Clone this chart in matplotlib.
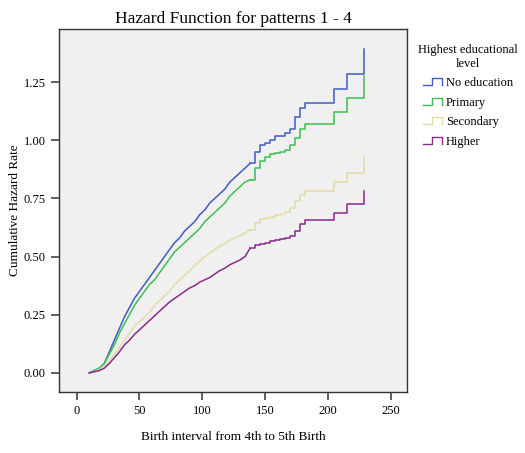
import numpy as np
from matplotlib import pyplot as plt
from matplotlib.legend_handler import HandlerLine2D
from matplotlib.lines import Line2D

# birth interval (months) and cumulative hazard per education level
months = [10, 14, 18, 22, 26, 30, 34, 38, 42, 46, 50, 54, 58, 62, 66, 70, 74, 78,
          82, 86, 90, 94, 98, 102, 106, 110, 114, 118, 122, 126, 130, 134, 138,
          142, 146, 150, 154, 158, 162, 166, 170, 174, 178, 182, 205, 215, 229]
no_education = [0, 0.01, 0.02, 0.04, 0.09, 0.14, 0.19, 0.24, 0.28, 0.32, 0.35, 0.38,
                0.41, 0.44, 0.47, 0.50, 0.53, 0.56, 0.58, 0.61, 0.63, 0.65, 0.68, 0.70,
                0.73, 0.75, 0.77, 0.79, 0.82, 0.84, 0.86, 0.88, 0.90, 0.95, 0.98, 0.99,
                1.00, 1.02, 1.02, 1.03, 1.05, 1.10, 1.14, 1.16, 1.22, 1.285, 1.39]
primary = [0, 0.01, 0.02, 0.04, 0.08, 0.12, 0.17, 0.21, 0.25, 0.29, 0.32, 0.35,
           0.38, 0.40, 0.43, 0.46, 0.49, 0.52, 0.54, 0.56, 0.58, 0.60, 0.62, 0.65,
           0.67, 0.69, 0.71, 0.73, 0.76, 0.78, 0.80, 0.82, 0.83, 0.88, 0.91, 0.93,
           0.94, 0.945, 0.95, 0.96, 0.98, 1.01, 1.05, 1.07, 1.12, 1.18, 1.275]
secondary = [0, 0.005, 0.015, 0.03, 0.05, 0.08, 0.11, 0.14, 0.17, 0.20, 0.22, 0.24,
             0.26, 0.29, 0.31, 0.33, 0.35, 0.38, 0.40, 0.42, 0.44, 0.46, 0.48, 0.50,
             0.515, 0.53, 0.545, 0.555, 0.57, 0.58, 0.59, 0.60, 0.615, 0.645, 0.66,
             0.665, 0.67, 0.68, 0.685, 0.69, 0.71, 0.74, 0.765, 0.78, 0.82, 0.86, 0.93]
higher = [0, 0.005, 0.01, 0.02, 0.04, 0.065, 0.09, 0.12, 0.14, 0.165, 0.185, 0.205,
          0.225, 0.245, 0.265, 0.285, 0.305, 0.32, 0.335, 0.35, 0.365, 0.375, 0.39,
          0.40, 0.41, 0.425, 0.44, 0.45, 0.465, 0.475, 0.485, 0.50, 0.535, 0.55,
          0.555, 0.56, 0.565, 0.57, 0.575, 0.58, 0.59, 0.61, 0.64, 0.655, 0.687,
          0.725, 0.78]

labels = ['No education', 'Primary', 'Secondary', 'Higher']
colors = ['#3e5cc0', '#3cbf50', '#e2dba4', '#8a2a8a']

# the dense early part has tiny steps -> drawn as a line; later part as steps
split = 33  # index of month 142


class StepHandler(HandlerLine2D):
    # legend key drawn as a little step, like SPSS does
    def create_artists(self, legend, orig_handle, xdescent, ydescent,
                       width, height, fontsize, trans):
        x0 = -xdescent
        y0 = -ydescent
        xs = [x0, x0 + width * 0.45, x0 + width * 0.45, x0 + width, x0 + width]
        ys = [y0 + height * 0.1, y0 + height * 0.1, y0 + height * 0.9,
              y0 + height * 0.9, y0 + height * 0.1]
        line = Line2D(xs, ys, color=orig_handle.get_color(), lw=1.0)
        line.set_transform(trans)
        return [line]


plt.rcParams['font.family'] = 'Liberation Serif'
fig = plt.figure(figsize=(5.25, 4.53), dpi=100)
ax = fig.add_axes([0.1124, 0.1347, 0.6629, 0.8013])
ax.set_facecolor('#f0f0f0')

series = [no_education, primary, secondary, higher]
handles = []
for vals, lab, col in zip(series, labels, colors):
    h, = ax.plot(months[:split], vals[:split], color=col, lw=1.1, label=lab)
    ax.plot(months[split - 1:], vals[split - 1:], drawstyle='steps-post',
            color=col, lw=1.1)
    handles.append(h)

ax.set_xlim(-14, 263)
ax.set_ylim(-0.082, 1.478)
ax.set_xticks([0, 50, 100, 150, 200, 250])
ax.set_yticks([0, 0.25, 0.5, 0.75, 1.0, 1.25])
ax.set_yticklabels(['0.00', '0.25', '0.50', '0.75', '1.00', '1.25'])
ax.tick_params(direction='out', length=6, width=1.2, color='#444444', labelsize=9)
for s in ax.spines.values():
    s.set_color('#333333')
    s.set_linewidth(1.0)

ax.set_title('Hazard Function for patterns 1 - 4', fontsize=12.5, pad=4)
ax.set_xlabel('Birth interval from 4th to 5th Birth', fontsize=9.5, labelpad=10)
ax.set_ylabel('Cumulative Hazard Rate', fontsize=9.5, labelpad=2)

leg = ax.legend(handles=handles, labels=labels, loc='upper left',
                bbox_to_anchor=(1.0, 0.99), frameon=False, fontsize=9,
                title='Highest educational\nlevel', title_fontsize=9,
                handler_map={Line2D: StepHandler()}, handlelength=1.5,
                handletextpad=0.3, labelspacing=0.6)
leg.get_title().set_multialignment('center')

fig.savefig('out.png', dpi=100)
